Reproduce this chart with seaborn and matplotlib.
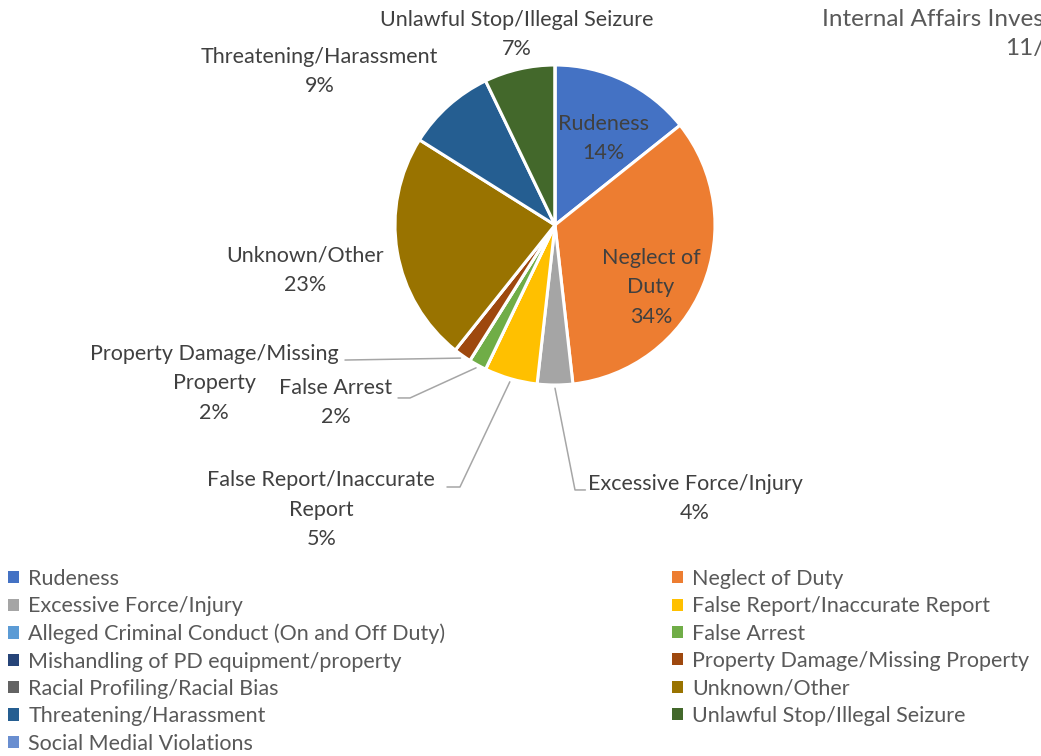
import matplotlib
matplotlib.use("Agg")
import numpy as np
import matplotlib.pyplot as plt
from matplotlib.patches import Patch
import seaborn as sns

# data: complaint counts per category (series order, clockwise from 12 o'clock)
categories = [
    "Rudeness", "Neglect of Duty", "Excessive Force/Injury",
    "False Report/Inaccurate Report", "Alleged Criminal Conduct (On and Off Duty)",
    "False Arrest", "Mishandling of PD equipment/property",
    "Property Damage/Missing Property", "Racial Profiling/Racial Bias",
    "Unknown/Other", "Threatening/Harassment", "Unlawful Stop/Illegal Seizure",
    "Social Medial Violations",
]
counts = [8, 19, 2, 3, 0, 1, 0, 1, 0, 13, 5, 4, 0]
slice_labels = {
    "Rudeness": "Rudeness",
    "Neglect of Duty": "Neglect of\nDuty",
    "Excessive Force/Injury": "Excessive Force/Injury",
    "False Report/Inaccurate Report": "False Report/Inaccurate\nReport",
    "False Arrest": "False Arrest",
    "Property Damage/Missing Property": "Property Damage/Missing\nProperty",
    "Unknown/Other": "Unknown/Other",
    "Threatening/Harassment": "Threatening/Harassment",
    "Unlawful Stop/Illegal Seizure": "Unlawful Stop/Illegal Seizure",
}
colors = ["#4472C4", "#ED7D31", "#A5A5A5", "#FFC000", "#5B9BD5", "#70AD47",
          "#264478", "#9E480E", "#636363", "#997300", "#255E91", "#43682B",
          "#698ED0"]

# label placement (pie radius units) and leader elbow/end points
label_pos = {
    "Rudeness": (0.30, 0.54),
    "Neglect of Duty": (0.60, -0.39),
    "Excessive Force/Injury": (0.875, -1.71),
    "False Report/Inaccurate Report": (-1.46, -1.78),
    "False Arrest": (-1.37, -1.11),
    "Property Damage/Missing Property": (-2.13, -0.99),
    "Unknown/Other": (-1.56, -0.28),
    "Threatening/Harassment": (-1.47, 0.96),
    "Unlawful Stop/Illegal Seizure": (-0.24, 1.19),
}
leaders = {
    "Excessive Force/Injury": [(0.125, -1.656), (0.19, -1.656)],
    "False Report/Inaccurate Report": [(-0.594, -1.6375), (-0.675, -1.6375)],
    "False Arrest": [(-0.906, -1.081), (-0.981, -1.081)],
    "Property Damage/Missing Property": [(-1.3125, -0.844)],
}

sns.set_theme(style="white")
plt.rcParams["font.family"] = ["Lato", "DejaVu Sans"]

W, H = 1041, 756
cx, cy, R = 555, 225, 160
fig = plt.figure(figsize=(W / 100, H / 100), dpi=100)
ax = fig.add_axes([0, 0, 1, 1])

wedges, _ = ax.pie(counts, colors=colors, startangle=90, counterclock=False,
                   wedgeprops=dict(edgecolor="white", linewidth=2.2))
ax.set_xlim(-cx / R, (W - cx) / R)
ax.set_ylim(-(H - cy) / R, cy / R)
ax.set_aspect("equal")
ax.axis("off")

total = sum(counts)
for name, w, c in zip(categories, wedges, counts):
    if c == 0:
        continue
    pct = round(100 * c / total)
    lx, ly = label_pos[name]
    ax.text(lx, ly, f"{slice_labels[name]}\n{pct}%", ha="center", va="center",
            fontsize=15.5, color="#404040", linespacing=1.6)
    if name in leaders:
        mid = np.deg2rad((w.theta1 + w.theta2) / 2)
        pts = [(1.02 * np.cos(mid), 1.02 * np.sin(mid))] + leaders[name]
        xs, ys = zip(*pts)
        ax.plot(xs, ys, color="#A6A6A6", lw=1.1)

# title (cut off at the right edge in the original)
fig.text(822 / W, 1 - 20 / H, "Internal Affairs Inves", ha="left", va="center",
         fontsize=17.5, color="#595959")
fig.text(1005 / W, 1 - 48 / H, "11/", ha="left", va="center",
         fontsize=17.5, color="#595959")

# legend laid out row-wise in two columns
handles = [Patch(facecolor=c, edgecolor="none") for c in colors]
for col, x0 in [(0, 8), (1, 672)]:
    idx = list(range(col, len(categories), 2))
    fig.legend([handles[i] for i in idx], [categories[i] for i in idx],
               loc="upper left", bbox_to_anchor=(x0 / W, 1 - 569 / H),
               frameon=False, fontsize=15.5, labelcolor="#595959",
               handlelength=0.5, handleheight=0.5, handletextpad=0.45,
               labelspacing=0.34, borderaxespad=0, borderpad=0)

fig.savefig("out.png", dpi=100)
